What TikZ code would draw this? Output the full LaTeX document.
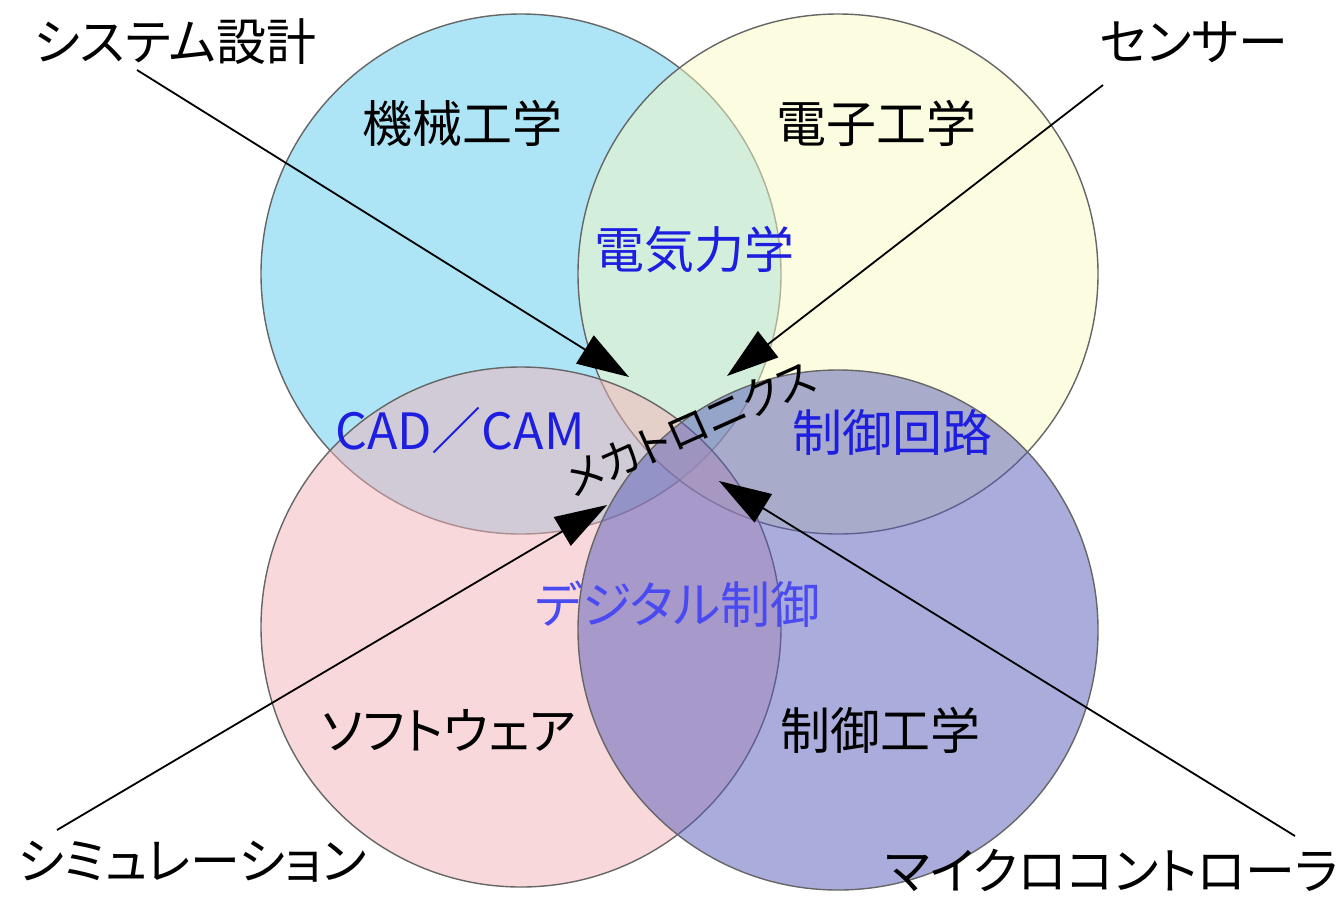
\documentclass[tikz,border=0pt]{standalone}
\usepackage{fontspec}
\newfontfamily\jp[RawFeature=+palt]{Noto Sans CJK JP}
\usetikzlibrary{arrows.meta}
\definecolor{tlc}{rgb}{0.36,0.80,0.94}
\definecolor{trc}{rgb}{0.98,0.98,0.76}
\definecolor{blc}{rgb}{0.96,0.70,0.72}
\definecolor{brc}{rgb}{0.34,0.36,0.72}
\definecolor{lblue}{HTML}{1E1EE0}
\definecolor{dblue}{HTML}{4A4AF2}
\tikzset{
  venn/.style={draw=black!60, line width=1.4pt, fill opacity=0.5, draw opacity=1},
  lbl/.style={font=\jp\fontsize{50}{60}\selectfont, inner sep=0pt, text=black},
  blbl/.style={lbl, text=lblue},
  ptr/.style={line width=1.8pt, -{Triangle[length=52pt,width=33pt]}}
}
\begin{document}
\begin{tikzpicture}[x=1pt,y=-1pt]
\useasboundingbox (0,0) rectangle (1343,898);
\fill[white] (0,0) rectangle (1343,898);
% circles
\path[venn, fill=tlc] (521,274) circle[radius=260pt];
\path[venn, fill=trc] (838,274) circle[radius=260pt];
\path[venn, fill=blc] (521,627) circle[radius=260pt];
\path[venn, fill=brc] (838,630) circle[radius=260pt];
% labels
\node[lbl] (mech) at (462,123) {機械工学};
\node[lbl] (elec) at (876,123) {電子工学};
\node[blbl] (emech) at (694,250) {電気力学};
\node[blbl] (cad) at (460,430) {CAD／CAM};
\node[blbl] (circ) at (892,432) {制御回路};
\node[lbl, font=\jp\fontsize{43}{50}\selectfont, rotate=24] (mecha) at (690,428) {メカトロニクス};
\node[lbl, text=dblue] (dig) at (678,604) {デジタル制御};
\node[lbl] (soft) at (449,730) {ソフトウェア};
\node[lbl] (ctrl) at (880,730) {制御工学};
\node[lbl] (sys) at (175,42) {システム設計};
\node[lbl] (sen) at (1194,42) {センサー};
\node[lbl] (sim) at (192,862) {シミュレーション};
\node[lbl] (mcu) at (1112,870) {マイクロコントローラ};
% connector ends
\coordinate (sysS) at (137,70);
\coordinate (senS) at (1103,85);
\coordinate (simS) at (57,830);
\coordinate (mcuS) at (1295,836);
\coordinate (sysT) at (629,377);
\coordinate (senT) at (727,376);
\coordinate (simT) at (607,505);
\coordinate (mcuT) at (719,481);
\draw[ptr] (sysS) -- (sysT);
\draw[ptr] (senS) -- (senT);
\draw[ptr] (simS) -- (simT);
\draw[ptr] (mcuS) -- (mcuT);
\end{tikzpicture}
\end{document}
